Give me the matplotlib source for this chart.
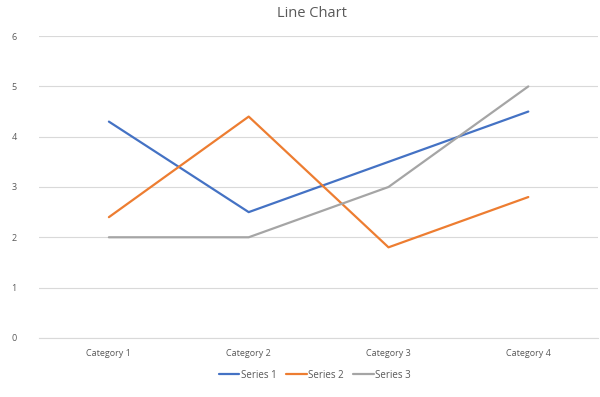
import matplotlib
matplotlib.use("Agg")
import matplotlib.pyplot as plt

categories = ["Category 1", "Category 2", "Category 3", "Category 4"]
series_names = ["Series 1", "Series 2", "Series 3"]
series1 = [4.3, 2.5, 3.5, 4.5]
series2 = [2.4, 4.4, 1.8, 2.8]
series3 = [2, 2, 3, 5]
colors = ["#4472C4", "#ED7D31", "#A5A5A5"]

plt.rcParams['font.family'] = ['Open Sans', 'DejaVu Sans']

fig = plt.figure(figsize=(6, 3.97), dpi=100)
ax = fig.add_axes([0.065, 0.149, 0.932, 0.76])

x = [i + 0.5 for i in range(len(categories))]
for vals, name, c in zip([series1, series2, series3], series_names, colors):
    ax.plot(x, vals, color=c, lw=1.6, label=name, solid_capstyle='round')

ax.set_xlim(0, 4)
ax.set_ylim(0, 6)
ax.set_xticks(x)
ax.set_xticklabels(categories)
ax.set_yticks(range(7))
ax.tick_params(axis='both', length=0, labelsize=6.5, colors='#595959')
ax.tick_params(axis='x', pad=8)
ax.tick_params(axis='y', pad=16)
ax.grid(axis='y', color='#D9D9D9', lw=0.8)
ax.set_axisbelow(True)
for s in ['top', 'right', 'left']:
    ax.spines[s].set_visible(False)
ax.spines['bottom'].set_color('#D9D9D9')

fig.suptitle("Line Chart", x=0.52, y=0.985, fontsize=10.5, color='#595959')
fig.legend(loc='center', bbox_to_anchor=(0.525, 0.055), ncol=3, frameon=False,
           fontsize=7, labelcolor='#595959', handlelength=2.1,
           handletextpad=0.15, columnspacing=1.0)

fig.savefig("out.png", dpi=100)
